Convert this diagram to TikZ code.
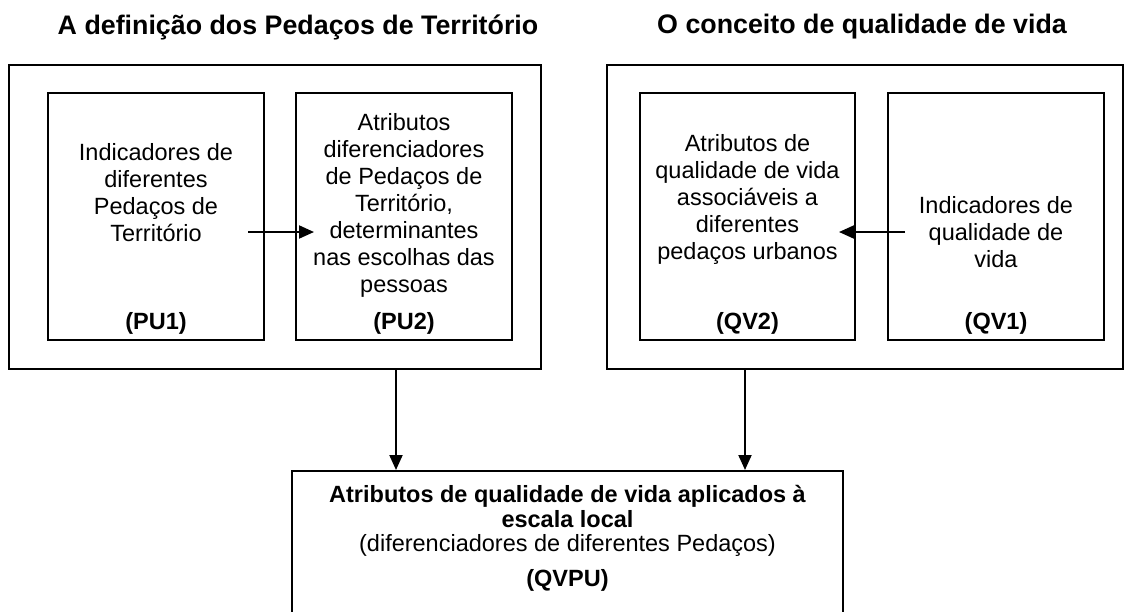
\documentclass[tikz,border=0pt]{standalone}
\usepackage{fontspec}
\setmainfont{Liberation Sans}
\usetikzlibrary{arrows.meta,positioning}

\tikzset{
  frame/.style={draw, line width=2pt, inner sep=0pt},
  txt/.style={align=center, font=\fontsize{23.5}{27}\selectfont},
  lbl/.style={font=\fontsize{23.5}{27}\selectfont\bfseries},
  ttl/.style={font=\fontsize{26.8}{30}\selectfont\bfseries},
  arr/.style={-{Triangle[length=15pt,width=13pt]}, line width=2pt},
}

\begin{document}
\begin{tikzpicture}[x=1pt,y=-1pt]
\useasboundingbox (0,0) rectangle (1127,611);
% titulos
\node[ttl] (T1) at (298,27) {A definição dos Pedaços de Território};
\node[ttl] (T2) at (862,27) {O conceito de qualidade de vida};
% caixas exteriores
\node[frame, minimum width=532pt, minimum height=304pt] (PT) at (275,217) {};
\node[frame, minimum width=516pt, minimum height=304pt] (CQ) at (865,217) {};
% caixas interiores
\node[frame, minimum width=216pt, minimum height=247pt] (PU1) at (156,216.5) {};
\node[frame, minimum width=216pt, minimum height=247pt] (PU2) at (404,216.5) {};
\node[frame, minimum width=215pt, minimum height=247pt] (QV2) at (747.5,216.5) {};
\node[frame, minimum width=216pt, minimum height=247pt] (QV1) at (996,216.5) {};
\node[txt] (PU1t) at (156,193) {Indicadores de\\diferentes\\Pedaços de\\Território};
\node[txt] (PU2t) at (404,205) {Atributos\\diferenciadores\\de Pedaços de\\Território,\\determinantes\\nas escolhas das\\pessoas};
\node[txt] (QV2t) at (747.5,199) {Atributos de\\qualidade de vida\\associáveis a\\diferentes\\pedaços urbanos};
\node[txt] (QV1t) at (996,232) {Indicadores de\\qualidade de\\vida};
\node[lbl] (PU1l) at (156,323) {(PU1)};
\node[lbl] (PU2l) at (404,323) {(PU2)};
\node[lbl] (QV2l) at (747.5,323) {(QV2)};
\node[lbl] (QV1l) at (996,323) {(QV1)};
% caixa de baixo
\node[frame, minimum width=551pt, minimum height=209pt] (QVPU) at (567.5,575.5) {};
\node[txt, font=\fontsize{23.5}{25}\selectfont\bfseries] (B1) at (567.5,506) {Atributos de qualidade de vida aplicados à\\escala local};
\node[txt] (B2) at (567.5,545) {(diferenciadores de diferentes Pedaços)};
\node[lbl] (B3) at (567.5,580) {(QVPU)};
% setas
\draw[arr] ([xshift=-17pt, yshift=-15.5pt] PU1.east) -- ([xshift=19pt, yshift=-15.5pt] PU2.west);
\draw[arr] ([xshift=18pt, yshift=-15.5pt] QV1.west) -- ([xshift=-17pt, yshift=-15.5pt] QV2.east);
\draw[arr] ([xshift=121pt] PT.south) -- ([xshift=121pt] PT.south |- QVPU.north);
\draw[arr] ([xshift=-120pt] CQ.south) -- ([xshift=-120pt] CQ.south |- QVPU.north);
\end{tikzpicture}
\end{document}
